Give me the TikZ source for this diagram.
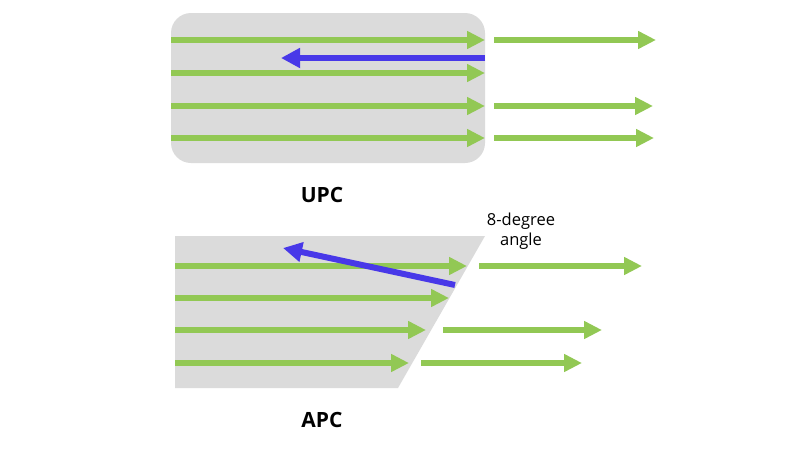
\documentclass[tikz,border=0pt]{standalone}
\usepackage{fontspec}
\setmainfont{Open Sans}
\usetikzlibrary{arrows.meta}
\tikzstyle{pixel} = [x = 1pt, y = -1pt]
\definecolor{beamColor}{RGB}{146,200,84}
\definecolor{reflectColor}{RGB}{72,56,232}
\definecolor{ferruleColor}{RGB}{219,219,219}
\tikzstyle{ferruleStyle} = [fill=ferruleColor, draw=none]
\tikzstyle{beamStyle} = [color=beamColor, line width=5.5pt, -{Triangle[length=18pt, width=17pt]}]
\tikzstyle{reflectStyle} = [color=reflectColor, line width=6pt, -{Triangle[length=19pt, width=19pt]}]
\tikzstyle{labelText} = [font=\bfseries\fontsize{21}{24}\selectfont]
\tikzstyle{noteText} = [font=\fontsize{16.5}{20}\selectfont, align=center]
\newcommand{\beam}[4]{
  \coordinate (#1s) at (#3, #2);
  \coordinate (#1e) at (#4, #2);
  \draw [beamStyle] (#1s) -- (#1e);
}

\begin{document}
\begin{tikzpicture}[pixel]
    \useasboundingbox (0,0) rectangle (800,450);
    % UPC
    \fill [ferruleStyle, rounded corners = 20pt] (171,13) rectangle (485,163);
    \beam{upcA}{40}{171}{485}
    \beam{upcB}{73}{171}{485}
    \beam{upcC}{106}{171}{485}
    \beam{upcD}{138}{171}{485}
    \beam{upcOutA}{40}{494}{656}
    \beam{upcOutC}{106}{494}{653}
    \beam{upcOutD}{138}{494}{654}
    \coordinate (upcBackS) at (485,58);
    \coordinate (upcBackE) at (281,58);
    \draw [reflectStyle] (upcBackS) -- (upcBackE);
    \node [labelText] (upcLabel) at (322,195) {UPC};
    % APC
    \fill [ferruleStyle] (175,236) -- (485,236) -- (398,388) -- (175,388) -- cycle;
    \beam{apcA}{266}{175}{467}
    \beam{apcB}{298}{175}{449}
    \beam{apcC}{330}{175}{426}
    \beam{apcD}{363}{175}{409}
    \beam{apcOutA}{266}{479}{642}
    \beam{apcOutC}{330}{443}{602}
    \beam{apcOutD}{363}{421}{582}
    \coordinate (apcBackS) at (455,285);
    \coordinate (apcBackE) at (283,248);
    \draw [reflectStyle] (apcBackS) -- (apcBackE);
    \node [noteText] (angleNote) at (521,231) {8-degree\\angle};
    \node [labelText] (apcLabel) at (322,420) {APC};
\end{tikzpicture}
\end{document}
